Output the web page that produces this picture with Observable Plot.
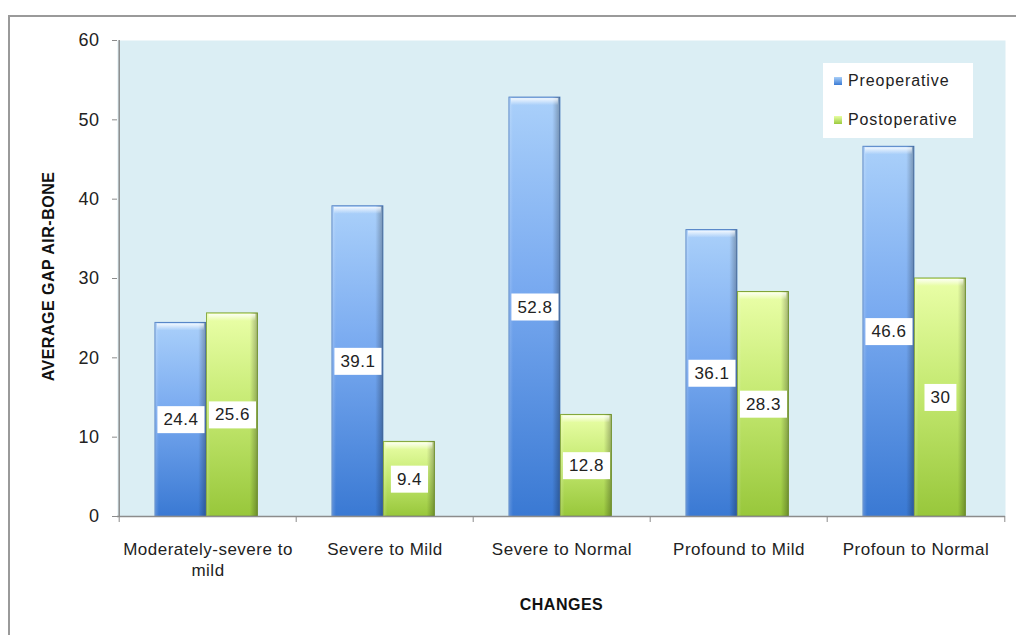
<!DOCTYPE html>
<html>
<head>
<meta charset="utf-8">
<script src="https://cdn.jsdelivr.net/npm/d3@7"></script>
<script src="https://cdn.jsdelivr.net/npm/@observablehq/plot@0.6"></script>
<style>
  html, body { margin: 0; padding: 0; width: 1016px; height: 635px; overflow: hidden; background: #fff; }
  #frame { position: absolute; left: 8px; top: 15px; width: 1100px; height: 700px; border: 2px solid #9a9a9a; box-sizing: border-box; background: #fff; }
  #chart { position: absolute; left: 0; top: 0; }
  #legend { position: absolute; left: 823px; top: 63px; width: 150px; height: 75px; background: #fff;
            font-family: "Liberation Sans", Arial, sans-serif; font-size: 16px; color: #222; letter-spacing: 0.9px; }
  .item { position: absolute; left: 11px; display: flex; align-items: center; }
  .sw { width: 8px; height: 8px; margin-right: 6px; }
</style>
</head>
<body>
<div id="frame"></div>
<div id="chart"></div>
<div id="legend">
  <div class="item" style="top:9px"><div class="sw" style="background:linear-gradient(#a9cff8,#3b7bd4)"></div><span id="lg0"></span></div>
  <div class="item" style="top:48px"><div class="sw" style="background:linear-gradient(#e8ffa3,#9bca3e)"></div><span id="lg1"></span></div>
</div>
<script>
const categories = ["Moderately-severe to\nmild", "Severe to Mild", "Severe to Normal", "Profound to Mild", "Profoun to Normal"];
const preoperative = [24.4, 39.1, 52.8, 36.1, 46.6];
const postoperative = [25.6, 9.4, 12.8, 28.3, 30];
const seriesNames = ["Preoperative", "Postoperative"];
const yTicks = [0, 10, 20, 30, 40, 50, 60];
const yLabel = "AVERAGE GAP AIR-BONE";
const xLabel = "CHANGES";

document.getElementById("lg0").textContent = seriesNames[0];
document.getElementById("lg1").textContent = seriesNames[1];

const preData = categories.map((c, i) => ({cat: c, value: preoperative[i]}));
const postData = categories.map((c, i) => ({cat: c, value: postoperative[i]}));

const W = 1016, H = 635, mL = 117, mR = 11, mT = 40, mB = 119;
const bw = (W - mL - mR) / categories.length;
const preL = 36, barW = 51.5;
const postL = preL + barW;
const preR = bw - preL - barW, postR = bw - postL - barW;
const gray = "#8c8c8c";

function barMarks(data, L, R, grad, stroke) {
  return [
    Plot.barY(data, {x: "cat", y: "value", insetLeft: L, insetRight: R, fill: `url(#${grad})`, stroke: stroke, strokeWidth: 1}),
    Plot.barY(data, {x: "cat", y: "value", insetLeft: L, insetRight: R, fill: "url(#shadeH)"}),
    Plot.barY(data, {x: "cat", y1: "value", y2: "value", insetTop: 1, insetBottom: -8, insetLeft: L + 2, insetRight: R + 2, fill: "url(#cap)"})
  ];
}

const chart = Plot.plot({
  width: W, height: H,
  marginLeft: mL, marginRight: mR, marginTop: mT, marginBottom: mB,
  style: {fontFamily: "'Liberation Sans', Arial, sans-serif", fontSize: "17px", color: "#222", background: "transparent", letterSpacing: "0.5px"},
  x: {domain: categories, padding: 0, label: null},
  y: {domain: [0, 60], label: null},
  marks: [
    Plot.frame({fill: "#dbeef4", stroke: "none"}),
    ...barMarks(preData, preL, preR, "gBlue", "#4f7fc4"),
    ...barMarks(postData, postL, postR, "gGreen", "#7fa436"),
    Plot.ruleY([0], {stroke: gray, strokeWidth: 1.5}),
    Plot.ruleX([categories[0]], {dx: -bw / 2, y1: () => 0, y2: () => 60, stroke: gray, strokeWidth: 1.5}),
    Plot.ruleX(categories, {dx: -bw / 2, y1: () => 0, y2: () => 0, insetBottom: -6, stroke: gray}),
    Plot.ruleX([categories[categories.length - 1]], {dx: bw / 2, y1: () => 0, y2: () => 0, insetBottom: -6, stroke: gray}),
    Plot.axisY({ticks: yTicks, tickSize: 5, tickPadding: 13, stroke: gray, fill: "#222", fontSize: 18, label: null}),
    Plot.axisX({tickSize: 0, tickPadding: 23, fill: "#222", fontSize: 17, lineHeight: 1.25, label: null}),
    Plot.text(preData, {x: "cat", y: d => d.value / 2, text: d => String(d.value), dx: preL + barW / 2 - bw / 2, fontSize: 17, fill: "#222", ariaLabel: () => "value-labels"}),
    Plot.text(postData, {x: "cat", y: d => d.value / 2, text: d => String(d.value), dx: postL + barW / 2 - bw / 2, fontSize: 17, fill: "#222", ariaLabel: () => "value-labels"}),
    Plot.text([yLabel], {frameAnchor: "left", text: d => d, rotate: -90, textAnchor: "middle", dx: -69, dy: -2, fontSize: 16, fontWeight: "bold", fill: "#111"}),
    Plot.text([xLabel], {frameAnchor: "bottom", text: d => d, dy: 93, fontSize: 16, fontWeight: "bold", fill: "#111"})
  ]
});

document.getElementById("chart").appendChild(chart);

// gradients
const svg = d3.select(chart);
const defs = svg.insert("defs", ":first-child");
function vgrad(id, stops) {
  const g = defs.append("linearGradient").attr("id", id).attr("x1", 0).attr("y1", 0).attr("x2", 0).attr("y2", 1);
  stops.forEach(([o, c, op]) => g.append("stop").attr("offset", o).attr("stop-color", c).attr("stop-opacity", op == null ? 1 : op));
}
vgrad("gBlue", [[0, "#aad0fa"], [0.45, "#79aaf0"], [1, "#3a79d3"]]);
vgrad("gGreen", [[0, "#eaffa8"], [0.45, "#c6ea73"], [1, "#98c73b"]]);
vgrad("cap", [[0, "#ffffff", 0.85], [1, "#ffffff", 0]]);
const h = defs.append("linearGradient").attr("id", "shadeH").attr("x1", 0).attr("y1", 0).attr("x2", 1).attr("y2", 0);
[[0, "#ffffff", 0.18], [0.08, "#ffffff", 0], [0.85, "#000000", 0], [1, "#000000", 0.28]].forEach(([o, c, op]) =>
  h.append("stop").attr("offset", o).attr("stop-color", c).attr("stop-opacity", op));

// white boxes behind value labels
const labelTexts = [];
chart.querySelectorAll('[aria-label="value-labels"]').forEach(el => {
  if (el.tagName.toLowerCase() === "text") labelTexts.push(el);
  else el.querySelectorAll("text").forEach(t => labelTexts.push(t));
});
labelTexts.forEach(t => {
  const b = t.getBBox();
  const r = document.createElementNS("http://www.w3.org/2000/svg", "rect");
  r.setAttribute("x", b.x - 6);
  r.setAttribute("y", b.y - 4);
  r.setAttribute("width", b.width + 12);
  r.setAttribute("height", b.height + 8);
  r.setAttribute("fill", "#ffffff");
  r.setAttribute("stroke", "none");
  const tr = t.getAttribute("transform");
  if (tr) r.setAttribute("transform", tr);
  t.parentNode.insertBefore(r, t);
});
</script>
</body>
</html>
